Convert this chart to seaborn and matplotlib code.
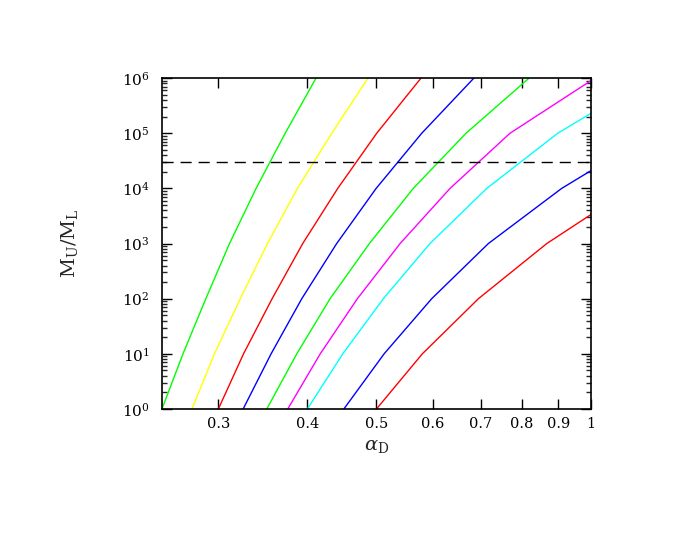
import numpy as np
import pandas as pd
import matplotlib
matplotlib.use("Agg")
import matplotlib.pyplot as plt
import matplotlib.ticker as mticker
import seaborn as sns

# values (alpha_D, M_U/M_L) for each curve
a1 = [0.25, 0.2676, 0.2881, 0.3110, 0.3389, 0.3723, 0.4113]
m1 = [1, 10, 100, 1e3, 1e4, 1e5, 1e6]
a2 = [0.2754, 0.2962, 0.3220, 0.3516, 0.3873, 0.4328, 0.4866]
m2 = [1, 10, 100, 1e3, 1e4, 1e5, 1e6]
a3 = [0.30, 0.3254, 0.3569, 0.3940, 0.4412, 0.5004, 0.5774]
m3 = [1, 10, 100, 1e3, 1e4, 1e5, 1e6]
a4 = [0.325, 0.3557, 0.3928, 0.4397, 0.4995, 0.5788, 0.685]
m4 = [1, 10, 100, 1e3, 1e4, 1e5, 1e6]
a5 = [0.3508, 0.3865, 0.4304, 0.4887, 0.5632, 0.6678, 0.8187]
m5 = [1, 10, 100, 1e3, 1e4, 1e5, 1e6]
a6 = [0.3754, 0.4169, 0.4701, 0.5397, 0.6342, 0.7698, 1.0]
m6 = [1, 10, 100, 1e3, 1e4, 1e5, 9e5]
a7 = [0.40, 0.4484, 0.5113, 0.5944, 0.7141, 0.8982, 1.0]
m7 = [1, 10, 100, 1e3, 1e4, 1e5, 2.3e5]
a8 = [0.45, 0.5125, 0.5977, 0.7178, 0.9097, 1.0]
m8 = [1, 10, 100, 1e3, 1e4, 2.1e4]
a9 = [0.50, 0.5799, 0.6951, 0.8669, 1.0]
m9 = [1, 10, 100, 1e3, 3360]

colors = ['#00ff00', '#ffff00', '#ff0000', '#0000ff', '#00ff00',
          '#ff00ff', '#00ffff', '#0000ff', '#ff0000']
dashed_level = 3e4

curves = [(a1, m1), (a2, m2), (a3, m3), (a4, m4), (a5, m5),
          (a6, m6), (a7, m7), (a8, m8), (a9, m9)]
frames = []
for i, (a, m) in enumerate(curves):
    frames.append(pd.DataFrame({'alpha': a, 'M': m, 'curve': f'c{i}'}))
df = pd.concat(frames, ignore_index=True)

sns.set_style("ticks")
plt.rcParams['font.family'] = ['DejaVu Serif']
plt.rcParams['mathtext.fontset'] = 'dejavuserif'

fig = plt.figure(figsize=(6.92, 5.35), dpi=100)
ax = fig.add_axes([0.234, 0.2355, 0.62, 0.6185])

palette = {f'c{i}': c for i, c in enumerate(colors)}
sns.lineplot(data=df, x='alpha', y='M', hue='curve', palette=palette,
             legend=False, linewidth=1.0, sort=False, ax=ax)
ax.axhline(dashed_level, color='black', linewidth=1.0, linestyle=(0, (8, 5)))

ax.set_xscale('log')
ax.set_yscale('log')
ax.set_xlim(0.25, 1.0)
ax.set_ylim(1, 1e6)

ax.xaxis.set_major_locator(mticker.FixedLocator([0.3, 0.4, 0.5, 0.6, 0.7, 0.8, 0.9, 1.0]))
ax.xaxis.set_major_formatter(mticker.FixedFormatter(['0.3', '0.4', '0.5', '0.6', '0.7', '0.8', '0.9', '1']))
ax.xaxis.set_minor_locator(mticker.NullLocator())
ax.yaxis.set_major_locator(mticker.LogLocator(base=10, numticks=10))
ax.yaxis.set_minor_locator(mticker.LogLocator(base=10, subs=np.arange(2, 10), numticks=10))
ax.yaxis.set_minor_formatter(mticker.NullFormatter())
ax.yaxis.set_major_formatter(mticker.FuncFormatter(lambda v, p: r'$10^{%d}$' % round(np.log10(v))))

ax.tick_params(which='major', direction='in', length=7, width=1, top=True, right=True,
               colors='black')
ax.tick_params(axis='x', which='major', labelsize=10.5, pad=6)
ax.tick_params(axis='y', which='major', labelsize=11, pad=9)
ax.tick_params(which='minor', direction='in', length=3.5, width=1, top=True, right=True)
for s in ax.spines.values():
    s.set_linewidth(1.2)
    s.set_color('black')

ax.set_xlabel(r'$\alpha_{\mathrm{D}}$', fontsize=14, labelpad=4)
ax.set_ylabel(r'$\mathrm{M_U/M_L}$', fontsize=14, labelpad=30)

fig.savefig('out.png', dpi=100)
